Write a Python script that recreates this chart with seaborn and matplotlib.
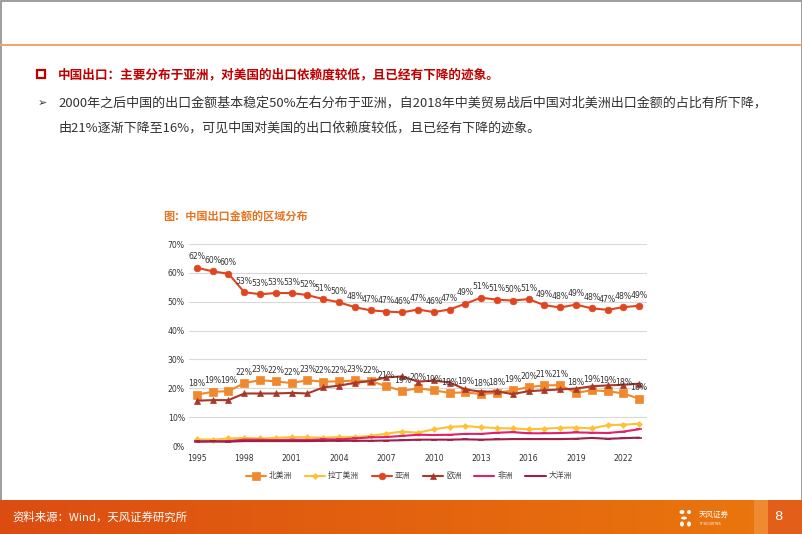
import numpy as np
import pandas as pd
import matplotlib
matplotlib.use("Agg")
import matplotlib.pyplot as plt
from matplotlib.patches import Rectangle, Ellipse
import seaborn as sns

years = list(range(1995, 2024))
north_america = [17.8, 18.8, 19.0, 21.8, 22.8, 22.4, 21.8, 22.8, 22.3, 22.4, 22.7, 22.5,
                 20.7, 19.1, 20.0, 19.3, 18.4, 18.6, 18.0, 18.4, 19.3, 20.4, 21.0, 21.1,
                 18.4, 19.3, 19.0, 18.2, 16.4]
latin_america = [2.3, 2.2, 2.6, 2.8, 2.6, 2.8, 3.1, 3.0, 2.9, 3.1, 3.1, 3.5, 4.3, 5.0, 4.6,
                 5.8, 6.6, 6.9, 6.5, 6.2, 6.1, 5.8, 6.0, 6.3, 6.4, 6.1, 7.2, 7.4, 7.7]
asia = [61.8, 60.5, 59.7, 53.3, 52.6, 53.0, 53.0, 52.3, 50.9, 49.8, 48.1, 47.0, 46.6, 46.3,
        47.3, 46.4, 47.3, 49.3, 51.4, 50.7, 50.4, 50.9, 48.8, 48.0, 49.0, 47.7, 47.2, 48.1, 48.6]
europe = [15.7, 15.9, 15.9, 18.2, 18.2, 18.2, 18.4, 18.2, 20.3, 20.9, 21.9, 22.5, 23.8, 24.1,
          22.3, 22.7, 22.0, 19.6, 18.8, 18.9, 18.0, 19.0, 19.3, 19.6, 19.9, 20.7, 21.0, 21.2, 21.6]
africa = [1.5, 1.6, 1.7, 2.2, 2.2, 2.0, 2.2, 2.1, 2.3, 2.3, 2.6, 3.0, 3.1, 3.5, 3.9, 3.8, 3.9,
          4.2, 4.2, 4.6, 4.8, 4.4, 4.4, 4.5, 4.7, 4.6, 4.5, 5.0, 5.8]
oceania = [1.6, 1.6, 1.5, 1.7, 1.7, 1.7, 1.7, 1.7, 1.8, 1.8, 1.8, 1.8, 1.9, 2.0, 2.2, 2.2, 2.2,
           2.3, 2.2, 2.3, 2.4, 2.4, 2.4, 2.4, 2.5, 2.8, 2.5, 2.7, 2.9]

series_names = ["北美洲", "拉丁美洲", "亚洲", "欧洲", "非洲", "大洋洲"]
series_vals = [north_america, latin_america, asia, europe, africa, oceania]
colors = ["#F0892E", "#FCC233", "#E0451F", "#A8382A", "#E0226B", "#9C2149"]
markers = ["s", "D", "o", "^", "_", "_"]
msizes = [5.2, 3.0, 4.8, 4.4, 3.8, 3.8]
xticks = list(range(1995, 2024, 3))
yticks = [0, 10, 20, 30, 40, 50, 60, 70]

sns.set_style("white")
plt.rcParams["font.family"] = ["Noto Sans CJK SC", "DejaVu Sans"]

W, H = 802, 534
fig = plt.figure(figsize=(W / 100, H / 100), dpi=100)
fig.patch.set_facecolor("white")

# page decorations
deco = fig.add_axes([0, 0, 1, 1], zorder=-5)
deco.set_xlim(0, W)
deco.set_ylim(H, 0)
deco.axis("off")
deco.add_patch(Rectangle((0.5, 0.5), W - 1, H - 1, fill=False, ec="#8C8C8C", lw=1.2))
deco.plot([0, W], [45, 45], color="#F0A468", lw=1.4)

# headline
deco.add_patch(Rectangle((37, 70), 8, 8, fill=False, ec="#C00000", lw=1.6))
deco.text(58, 75, "中国出口：主要分布于亚洲，对美国的出口依赖度较低，且已经有下降的迹象。",
          color="#C00000", fontsize=9.1, fontweight="bold", va="center", ha="left")
deco.text(38, 103, "➢", color="#333333", fontsize=8, va="center", ha="left",
          family="DejaVu Sans")
deco.text(58, 103, "2000年之后中国的出口金额基本稳定50%左右分布于亚洲，自2018年中美贸易战后中国对北美洲出口金额的占比有所下降，",
          color="#333333", fontsize=9.4, va="center", ha="left")
deco.text(58, 128, "由21%逐渐下降至16%，可见中国对美国的出口依赖度较低，且已经有下降的迹象。",
          color="#333333", fontsize=9.4, va="center", ha="left")
deco.text(163, 217, "图：中国出口金额的区域分布", color="#E8731E", fontsize=8.0,
          fontweight="bold", va="center", ha="left")

# chart
ax = fig.add_axes([189 / W, (H - 446) / H, 458 / W, 202 / H])
df = pd.DataFrame({"year": years})
for name, vals in zip(series_names, series_vals):
    df[name] = vals
for name, c, m, ms in zip(series_names, colors, markers, msizes):
    sns.lineplot(data=df, x="year", y=name, ax=ax, color=c, marker=m, markersize=ms,
                 markeredgecolor=c, markerfacecolor=c, markeredgewidth=1.2 if m == "_" else 0.5,
                 linewidth=1.5, label=name)

for x, y in zip(years, asia):
    ax.annotate(f"{y:.0f}%", (x, y), xytext=(0, 4.5), textcoords="offset points",
                ha="center", va="bottom", fontsize=5.6, color="#333333", family="DejaVu Sans")
for x, y in zip(years, north_america):
    ax.annotate(f"{y:.0f}%", (x, y), xytext=(0, 4.5), textcoords="offset points",
                ha="center", va="bottom", fontsize=5.6, color="#333333", family="DejaVu Sans")

ax.set_xlim(1994.5, 2023.5)
ax.set_ylim(0, 70)
ax.set_xticks(xticks)
ax.set_xticklabels([str(t) for t in xticks])
ax.set_yticks(yticks)
ax.set_yticklabels([f"{t}%" for t in yticks])
ax.tick_params(axis="x", length=0, labelsize=5.6, labelcolor="#333333", pad=5.5)
ax.tick_params(axis="y", length=0, labelsize=5.6, labelcolor="#333333", pad=3)
for lab in ax.get_xticklabels() + ax.get_yticklabels():
    lab.set_family("DejaVu Sans")
ax.grid(axis="y", color="#D9D9D9", lw=0.8)
ax.grid(axis="x", visible=False)
for s in ax.spines.values():
    s.set_visible(False)
ax.set_xlabel("")
ax.set_ylabel("")
ax.set_facecolor("none")
leg = ax.legend(loc="upper center", bbox_to_anchor=(0.48, -0.095), ncol=6, frameon=False,
                fontsize=5.6, handlelength=2.6, handletextpad=0.4, columnspacing=1.6)
for t in leg.get_texts():
    t.set_color("#404040")

# footer band
foot = fig.add_axes([0, 0, 1, 34 / H], zorder=-4)
foot.axis("off")
grad = np.linspace(0, 1, 400)
c1 = np.array([0.86, 0.30, 0.07])
c2 = np.array([0.92, 0.47, 0.05])
img = (c1[None, :] * (1 - grad[:, None]) + c2[None, :] * grad[:, None])[None, :, :]
foot.imshow(img, aspect="auto", extent=[0, W, 0, 34])
foot.add_patch(Rectangle((754, 0), 14, 34, color="#F08A30", lw=0))
foot.add_patch(Rectangle((768, 0), 34, 34, color="#E35E18", lw=0))
foot.set_xlim(0, W)
foot.set_ylim(0, 34)
foot.text(12, 17, "资料来源：Wind，天风证券研究所", color="white", fontsize=8.2,
          va="center", ha="left")
foot.text(778, 17, "8", color="white", fontsize=9.5, va="center", ha="center",
          family="DejaVu Sans")
for (ex, ey, ew, eh) in [(682, 22, 5, 4), (689, 22, 4, 4), (684, 16, 6, 3),
                         (682, 10, 4, 5), (689, 10, 4, 5)]:
    foot.add_patch(Ellipse((ex, ey), ew, eh, color="white", lw=0))
foot.text(699, 19, "天风证券", color="white", fontsize=5.4, va="center", ha="left")
foot.text(699, 10, "TF SECURITIES", color="white", fontsize=2.2, va="center", ha="left",
          family="DejaVu Sans")

fig.savefig("out.png", dpi=100, facecolor="white")
